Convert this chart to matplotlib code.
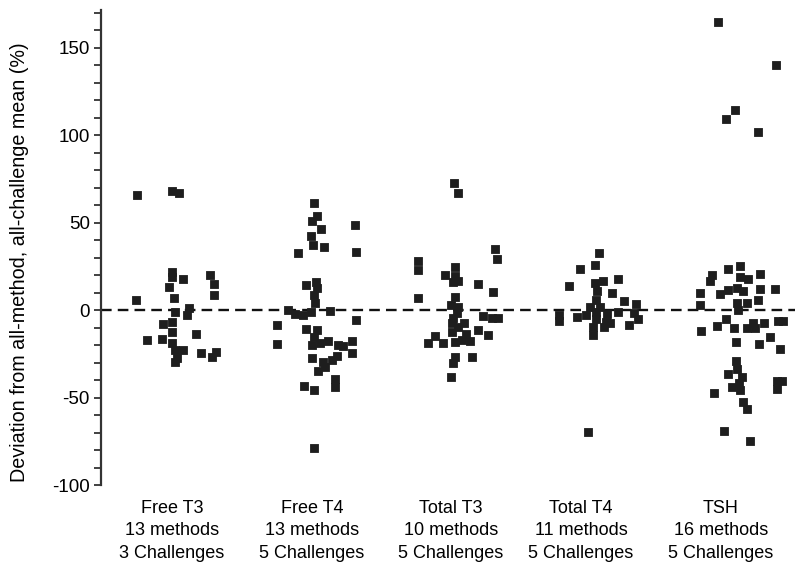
import matplotlib
matplotlib.use("Agg")
import matplotlib.pyplot as plt
from matplotlib.ticker import MultipleLocator

plt.rcParams['font.family'] = ['Liberation Sans', 'DejaVu Sans']
plt.rcParams['axes.unicode_minus'] = False

categories = ["Free T3", "Free T4", "Total T3", "Total T4", "TSH"]
methods = ["13 methods", "13 methods", "10 methods", "11 methods", "16 methods"]
challenges = ["3 Challenges", "5 Challenges", "5 Challenges", "5 Challenges", "5 Challenges"]

# deviation values (%)
free_t3 = [66, 68, 67, 22, 19, 18, 20, 15, 8.6, 13, 7, 6,
           1, -1, -3, -7, -8, -12.6, -13.7, -17, -16.6, -19, -23, -23,
           -27.5, -29.7, -24.5, -26.7, -24]
free_t4 = [61.4, 54, 51, 46.5, 42.3, 37, 36, 32.6, 48.6, 33,
           14.3, 16, 12.6, 8.6, 4, 0, -2, -3, -1, -0.6, -5.7, -8.6, -19.5,
           -11, -11.4, -15.4, -20, -19, -17.7, -20, -20.6, -17.7, -24.6,
           -26.3, -28.6, -29.7, -32.6, -35, -27.5, -39.5, -44, -43.5, -45.8, -79]
total_t3 = [72.6, 66.9, 35, 29, 28, 22.9, 24.6, 20, 19.5, 16.6, 16, 14.9,
            10.3, 6.8, 7.4, 2.9, 1.7, -1.7, -4.6, -3.4, -4.6, -4.6, -7.4,
            -7.4, -9.7, -12.6, -11.4, -13.7, -14.3, -14.9, -19, -19, -18,
            -17, -17.7, -26.7, -26.7, -30, -38]
total_t4 = [32.8, 25.7, 23.5, 13.9, 15.4, 16.8, 17.9, 9.9, 10.9, 5.7, 5.1,
            3.4, -1, -1.7, -5, -8.6, -2.9, -6.1, -4, -2.9, -1, -5.3, -2.3,
            -6.7, -7.6, -9.7, -9.5, -14.3, 2, 2, -69.8]
tsh = [165, 140, 114.6, 109, 102,
       25.4, 23.4, 20, 16.6, 20.6, 19, 17.7, 9.7, 9, 11.4, 12.6, 11, 12, 12,
       2.9, 4, 4, 5.7, 0,
       -5, -9, -11.8, -10, -10, -7.6, -10, -7.3, -6.3, -6.3,
       -18, -19.5, -15.2, -22.5, -29, -33.7, -36.6, -38, -41.6, -44, -45.4,
       -47.6, -52.5, -56.6, -40.5, -40.5, -45, -69, -74.8]

# horizontal jitter of each point (offset from the group centre)
free_t3_dx = [-35, 0, 7, 0, 0, 11, 38, 42, 42, -3, 2, -36,
              17, 3, 15, 0, -9, 0, 24, -25, -10, 0, 3, 11,
              5, 3, 29, 40, 44]
free_t4_dx = [2, 5, 0, 9, -1, 1, 12, -14, 43, 44,
              -6, 4, 5, 2, 3, -24, -17, -9, -1, 18, 44, -35, -35,
              -6, 5, 2, 0, 8, 16, 26, 31, 40, 40,
              25, 20, 11, 13, 6, 0, 23, 23, -8, 2, 2]
total_t3_dx = [3, 7, 44, 46, -33, -33, 4, -6, 4, 7, 2, 27,
               42, -33, 4, 0, 7, 6, 2, 32, 41, 47, 1,
               13, 7, 1, 27, 15, 37, -16, -23, -8, 4,
               11, 19, 4, 21, 2, 0]
total_t4_dx = [18, 14, -1, -12, 14, 22, 37, 31, 16, 15, 43,
               55, 37, 53, 57, 48, -22, -22, -4, 5, 15, 15, 26,
               25, 29, 23, 12, 12, 9, 19, 7]
tsh_dx = [-3, 55, 14, 5, 37,
          19, 7, -9, -11, 39, 19, 27, -21, -1, 7, 16, 22, 39, 54,
          -21, 16, 26, 37, 17,
          5, -4, -20, 13, 26, 32, 34, 43, 57, 62,
          15, 38, 49, 59, 15, 16, 7, 21, 18, 11, 19,
          -7, 22, 26, 56, 61, 56, 3, 29]

values = [free_t3, free_t4, total_t3, total_t4, tsh]
offsets = [free_t3_dx, free_t4_dx, total_t3_dx, total_t4_dx, tsh_dx]
centers = [71, 211, 350, 480, 620]

fig = plt.figure(figsize=(8.01, 5.77), dpi=100)
ax = fig.add_axes([101 / 801, 92 / 577, 694 / 801, 475 / 577])

for c, vals, dxs in zip(centers, values, offsets):
    xs = [c + d for d in dxs]
    ax.scatter(xs, vals, marker='s', s=38, color='#1e1e1e', edgecolors='#1e1e1e',
               linewidths=0.6, zorder=3, clip_on=False)

ax.axhline(0, color='#111111', linestyle=(0, (4.5, 2.6)), linewidth=1.7, zorder=2)

ax.set_xlim(0, 694)
ax.set_ylim(-100, 171.6)

ax.yaxis.set_major_locator(MultipleLocator(50))
ax.yaxis.set_minor_locator(MultipleLocator(10))
ax.tick_params(axis='y', which='both', direction='out', length=5, width=1.3,
               color='#333333', labelsize=13.5, pad=3)

labels = [f"{a}\n{b}\n{c}" for a, b, c in zip(categories, methods, challenges)]
ax.set_xticks(centers)
ax.set_xticklabels(labels, fontsize=13, linespacing=1.4)
ax.tick_params(axis='x', length=0, pad=11)

for s in ['top', 'right', 'bottom']:
    ax.spines[s].set_visible(False)
ax.spines['left'].set_linewidth(1.6)
ax.spines['left'].set_color('#333333')

ax.set_ylabel("Deviation from all-method, all-challenge mean (%)", fontsize=14.2)
ax.yaxis.set_label_coords(-0.104, 0.469)

fig.savefig("out.png", dpi=100)
